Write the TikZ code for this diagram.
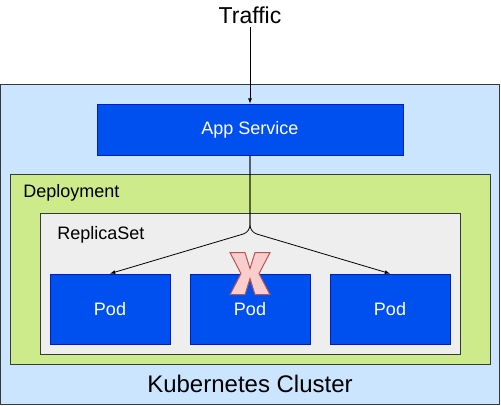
\documentclass[tikz,border=0pt]{standalone}
\usepackage{fontspec}
\setmainfont{Liberation Sans}
\usetikzlibrary{positioning, arrows.meta}

\definecolor{clusterfill}{HTML}{CCE5FF}
\definecolor{deployfill}{HTML}{CDEB8B}
\definecolor{replicafill}{HTML}{EEEEEE}
\definecolor{frameline}{HTML}{36393D}
\definecolor{bluefill}{HTML}{0050EF}
\definecolor{blueline}{HTML}{001DBC}
\definecolor{xfill}{HTML}{F8CECC}
\definecolor{xline}{HTML}{B85450}

\tikzset{
    layer/.style={draw=frameline, rectangle, line width=1pt, inner sep=0pt},
    bluebox/.style={draw=blueline, fill=bluefill, rectangle, inner sep=0pt,
        text=white, font=\fontsize{18}{20}\selectfont},
    label/.style={inner sep=0pt, font=\fontsize{18}{20}\selectfont, anchor=west},
    bigtext/.style={inner sep=0pt, font=\fontsize{23}{26}\selectfont},
}

\begin{document}
\begin{tikzpicture}[x=1pt, y=-1pt, >=latex, line width=0.8pt]
    \useasboundingbox (0,0) rectangle (501,405);

    \node[layer, fill=clusterfill, minimum width=499pt, minimum height=320pt] (cluster) at (250,244) {};
    \node[layer, fill=deployfill, minimum width=480pt, minimum height=190pt] (deploy) at (250,269) {};
    \node[layer, fill=replicafill, minimum width=420pt, minimum height=141pt] (replica) at (250,283.5) {};

    \node[bigtext] (traffic) at (250,15) {Traffic};
    \node[bigtext, font=\fontsize{24}{27}\selectfont] (clustertxt) at (250,384) {Kubernetes Cluster};
    \node[label] (deploytxt) at (23,193) {Deployment};
    \node[label] (replicatxt) at (57,235) {ReplicaSet};

    \node[bluebox, minimum width=306pt, minimum height=51pt] (app) at (250,129.5) {App Service};

    \node[bluebox, minimum width=120pt, minimum height=70pt] (pod1) at (110,309) {Pod};
    \node[bluebox, minimum width=120pt, minimum height=70pt] (pod2) at (250,309) {Pod};
    \node[bluebox, minimum width=120pt, minimum height=70pt] (pod3) at (390,309) {Pod};

    \coordinate (split) at (250,232);

    \draw[->] (traffic.south) ++(0,3) -- (app.north);
    \draw[->, rounded corners=7pt] (app.south) -- (split) -- (pod1.north);
    \draw[->, rounded corners=7pt] (app.south) -- (split) -- (pod3.north);

    % crossed out pod
    \draw[draw=xline, fill=xfill, line width=1pt, shift={(pod2.north)}]
        (-20,-21) -- (-5,-21) -- (0,-5) -- (5,-21) -- (20,-21) -- (9,0) -- (20,21)
        -- (5,21) -- (0,5) -- (-5,21) -- (-20,21) -- (-9,0) -- cycle;
\end{tikzpicture}
\end{document}
